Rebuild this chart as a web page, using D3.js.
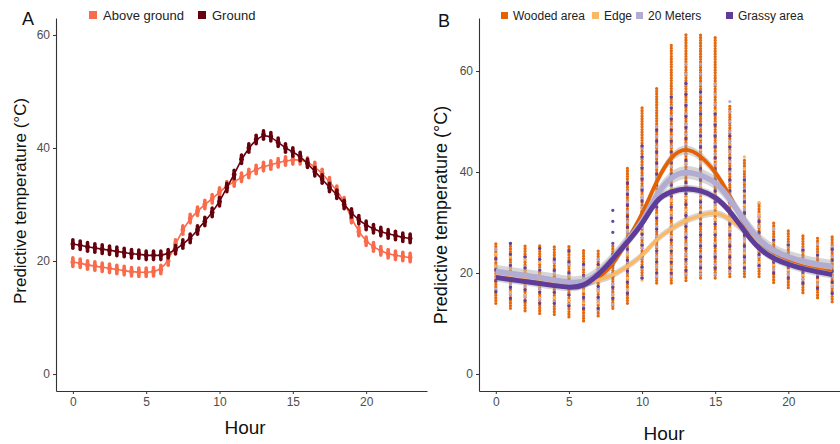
<!DOCTYPE html>
<html>
<head>
  <meta charset="utf-8">
  <title>Predictive temperature by hour</title>
  <script src="https://d3js.org/d3.v7.min.js"></script>
  <style type="text/css">
    body { margin: 0; background: #fff; }
    svg { font-family: "Liberation Sans", Arial, sans-serif; }
    .tick text { fill: #4d4d4d; font-size: 12px; }
    .axis path, .axis line { stroke: #333; }
  </style>
</head>
<body>
<div id="chart"></div>
<script type="text/javascript">
  // ---- panel A data (half hour steps) ----
  var hoursA = d3.range(0, 23.5, 0.5);
  var aboveGround = [19.8, 19.6, 19.3, 19.1, 18.9, 18.7, 18.5, 18.3, 18.1, 18.0, 18.0, 18.1, 18.5, 20.0,
    23.0, 25.5, 27.5, 28.8, 30.0, 31.0, 32.2, 33.3, 34.0, 34.8, 35.5, 36.2, 36.7, 37.0, 37.4, 37.7,
    37.9, 37.9, 37.5, 36.7, 35.5, 34.0, 32.5, 30.5, 27.5, 25.2, 23.5, 22.5, 21.8, 21.3, 21.0, 20.8, 20.6];
  var ground = [23.0, 22.8, 22.5, 22.3, 22.1, 21.9, 21.7, 21.5, 21.3, 21.2, 21.0, 21.0, 21.0, 21.3,
    22.0, 23.0, 24.0, 25.5, 27.0, 28.6, 30.5, 33.0, 35.3, 38.0, 40.0, 41.5, 42.3, 42.0, 41.0, 40.0,
    39.3, 38.5, 37.3, 35.8, 34.5, 33.0, 31.8, 30.0, 28.5, 27.3, 26.3, 25.7, 25.2, 24.8, 24.5, 24.2, 24.0];
  var seA = 0.75;

  // ---- panel B data (hourly) ----
  var hoursB = d3.range(0, 24);
  var categoriesB = ["Wooded area", "Edge", "20 Meters", "Grassy area"];
  // observed range per hour [min, max]
  var woodedRange = [[14, 26], [13, 26], [12.5, 25.5], [12, 25.5], [11.8, 25.3], [11.3, 25.3], [10.5, 24.7],
    [11.5, 24.7], [13, 25.3], [14, 40.8], [19, 53], [18, 56.5], [18, 65.4], [18.5, 67.4], [19, 67.4],
    [19, 66.6], [19.3, 53.3], [19.3, 42.3], [19.3, 34], [18.1, 30.2], [17.1, 28.4], [16.1, 27.4],
    [15.1, 27.2], [14.3, 27.2]];
  var edgeRange = [[15, 24], [14.5, 24], [14, 23.5], [13.5, 23], [13.5, 23], [13, 22.5], [12.5, 22],
    [12.5, 22], [13.5, 24], [15, 30], [17, 36], [18, 42], [18.5, 48], [19, 52], [19, 54], [19.5, 53],
    [20, 47.5], [20, 43.9], [20.5, 35.4], [20, 29], [19, 27], [18, 26], [17, 25.5], [16, 25]];
  var metersRange = [[15, 25], [14, 25], [13.5, 24.5], [13, 24], [12.5, 24], [12, 23.5], [11.5, 23],
    [11, 23], [12, 25], [14.5, 38], [17.3, 46], [17.5, 50], [17.5, 55], [18, 62], [18, 62], [18, 58],
    [18.5, 55], [19, 40], [19.5, 33], [19, 29], [18, 27.5], [17, 26.5], [16, 26], [15.5, 26]];
  var grassyRange = [[15.3, 25], [14, 26.3], [13.5, 25], [13, 25.7], [13, 24], [12.5, 24.5], [12, 23.5],
    [12, 23.5], [14, 32.8], [15, 38], [18, 47], [19, 50], [19, 55], [19.5, 58], [20, 56], [20, 52],
    [20, 48], [20, 39], [20.5, 32], [19, 28], [18, 26], [17, 26], [16, 25], [15, 25.5]];
  // fitted curves
  var woodedFit = [19.8, 19.5, 19.1, 18.7, 18.2, 17.8, 17.8, 18.9, 21.5, 26.5, 31.4, 38.4, 43.3, 44.9,
    43.3, 40.2, 35.4, 29.4, 26.2, 24.0, 22.7, 21.8, 21.2, 20.7];
  var edgeFit = [19.9, 19.5, 19.1, 18.7, 18.3, 17.9, 17.9, 18.5, 19.5, 21.3, 23.3, 26.8, 28.8, 30.5,
    31.4, 32.2, 30.8, 28.2, 26.0, 24.5, 23.0, 22.0, 21.4, 21.0];
  var metersFit = [20.3, 19.9, 19.5, 19.1, 18.6, 18.0, 18.0, 19.8, 22.8, 26.5, 29.8, 35.8, 39.2, 40.2,
    39.4, 38.2, 34.8, 30.2, 26.4, 24.3, 23.1, 22.3, 21.7, 21.3];
  var grassyFit = [19.1, 18.7, 18.3, 17.9, 17.5, 17.1, 17.3, 19.6, 22.7, 26.2, 29.5, 34.8, 36.2, 36.8,
    36.4, 35.2, 32.4, 28.2, 24.7, 22.8, 21.7, 20.8, 20.2, 19.7];
  var fitSE = [0.9, 0.7, 1.3, 0.8];

  var xTicks = [0, 5, 10, 15, 20];
  var yTicks = [0, 20, 40, 60];

  var colA = { above: "#f96b4b", ground: "#67000d" };
  var colB = ["#e66101", "#fdb863", "#b2abd2", "#5e3c99"];

  var W = 840, H = 444;
  var svg = d3.select("#chart").append("svg")
    .attr("width", W).attr("height", H);

  function drawAxes(g, x, y, left, bottom) {
    g.append("g").attr("class", "axis")
      .attr("transform", "translate(0," + bottom + ")")
      .call(d3.axisBottom(x).tickValues(xTicks).tickSize(3).tickSizeOuter(0).tickPadding(3))
      .call(function (s) { s.select(".domain").attr("stroke-width", 1.1); });
    g.append("g").attr("class", "axis")
      .attr("transform", "translate(" + left + ",0)")
      .call(d3.axisLeft(y).tickValues(yTicks).tickSize(3).tickSizeOuter(0).tickPadding(3))
      .call(function (s) { s.select(".domain").attr("stroke-width", 1.1); });
  }

  // ================= Panel A =================
  var xA = d3.scaleLinear().domain([-1.15, 24.15]).range([56, 427]);
  var yA = d3.scaleLinear().domain([-3, 63]).range([391, 18]);
  var gA = svg.append("g");
  drawAxes(gA, xA, yA, 56, 391);

  var lineA = d3.line().curve(d3.curveBasis)
    .x(function (d) { return xA(d[0]); })
    .y(function (d) { return yA(d[1]); });

  [[aboveGround, colA.above], [ground, colA.ground]].forEach(function (s) {
    var pts = hoursA.map(function (h, i) { return [h, s[0][i]]; });
    var grp = gA.append("g");
    grp.selectAll("line").data(pts).enter().append("line")
      .attr("x1", function (d) { return xA(d[0]); })
      .attr("x2", function (d) { return xA(d[0]); })
      .attr("y1", function (d) { return yA(d[1] - seA); })
      .attr("y2", function (d) { return yA(d[1] + seA); })
      .attr("stroke", s[1]).attr("stroke-width", 3.6).attr("stroke-linecap", "round");
    grp.selectAll("circle").data(pts).enter().append("circle")
      .attr("cx", function (d) { return xA(d[0]); })
      .attr("cy", function (d) { return yA(d[1]); })
      .attr("r", 2.4).attr("fill", s[1]);
    grp.append("path").datum(pts).attr("d", lineA)
      .attr("fill", "none").attr("stroke", s[1]).attr("stroke-width", 1.6);
  });

  gA.append("text").attr("x", 22).attr("y", 25).attr("font-size", 18).attr("fill", "#111").text("A");
  gA.append("text").attr("x", 245).attr("y", 434).attr("text-anchor", "middle")
    .attr("font-size", 19).attr("fill", "#111").text("Hour");
  gA.append("text").attr("transform", "translate(26,201) rotate(-90)").attr("text-anchor", "middle")
    .attr("font-size", 17).attr("fill", "#111").text("Predictive temperature (°C)");

  var legA = [["Above ground", colA.above, 89], ["Ground", colA.ground, 198]];
  legA.forEach(function (l) {
    gA.append("rect").attr("x", l[2]).attr("y", 11).attr("width", 8).attr("height", 8).attr("fill", l[1]);
    gA.append("text").attr("x", l[2] + 14).attr("y", 20).attr("font-size", 13).attr("fill", "#222").text(l[0]);
  });

  // ================= Panel B =================
  var xB = d3.scaleLinear().domain([-1.15, 24.15]).range([479, 849]);
  var yB = d3.scaleLinear().domain([-3.37, 70.5]).range([391, 18]);
  var gB = svg.append("g");
  drawAxes(gB, xB, yB, 479, 391);

  var ranges = [woodedRange, edgeRange, metersRange, grassyRange];
  var fits = [woodedFit, edgeFit, metersFit, grassyFit];
  var dotStep = [2.7, 12, 10, 11];
  var dotOffset = [0, 4, 1, 6];

  // dense orange columns first, others sprinkled on top
  [0, 1, 2, 3].forEach(function (k) {
    gB.append("g").selectAll("line").data(hoursB).enter().append("line")
      .attr("x1", function (h) { return xB(h); })
      .attr("x2", function (h) { return xB(h); })
      .attr("y1", function (h) { return yB(ranges[k][h][0]); })
      .attr("y2", function (h) { return yB(ranges[k][h][1]); })
      .attr("stroke", colB[k]).attr("stroke-width", 3.3).attr("stroke-linecap", "round")
      .attr("stroke-dasharray", "0," + dotStep[k])
      .attr("stroke-dashoffset", dotOffset[k])
      .attr("opacity", 0.95);
  });

  var area = d3.area().curve(d3.curveBasis)
    .x(function (d) { return xB(d[0]); })
    .y0(function (d) { return yB(d[1] - d[2]); })
    .y1(function (d) { return yB(d[1] + d[2]); });
  var lineB = d3.line().curve(d3.curveBasis)
    .x(function (d) { return xB(d[0]); })
    .y(function (d) { return yB(d[1]); });
  var widths = [3.8, 3.4, 5.5, 5];

  fits.forEach(function (f, k) {
    var pts = hoursB.map(function (h) { return [h, f[h], fitSE[k]]; });
    gB.append("path").datum(pts).attr("d", area)
      .attr("fill", "#999").attr("opacity", 0.4);
  });
  fits.forEach(function (f, k) {
    var pts = hoursB.map(function (h) { return [h, f[h]]; });
    gB.append("path").datum(pts).attr("d", lineB)
      .attr("fill", "none").attr("stroke", colB[k]).attr("stroke-width", widths[k]);
  });

  gB.append("text").attr("x", 438).attr("y", 27).attr("font-size", 18).attr("fill", "#111").text("B");
  gB.append("text").attr("x", 664).attr("y", 440).attr("text-anchor", "middle")
    .attr("font-size", 19).attr("fill", "#111").text("Hour");
  gB.append("text").attr("transform", "translate(447,215) rotate(-90)").attr("text-anchor", "middle")
    .attr("font-size", 18).attr("fill", "#111").text("Predictive temperature (°C)");

  var legX = [501, 592, 636, 726];
  categoriesB.forEach(function (c, k) {
    gB.append("rect").attr("x", legX[k]).attr("y", 12).attr("width", 7).attr("height", 7).attr("fill", colB[k]);
    gB.append("text").attr("x", legX[k] + 12).attr("y", 20).attr("font-size", 12).attr("fill", "#222").text(c);
  });
</script>
</body>
</html>
